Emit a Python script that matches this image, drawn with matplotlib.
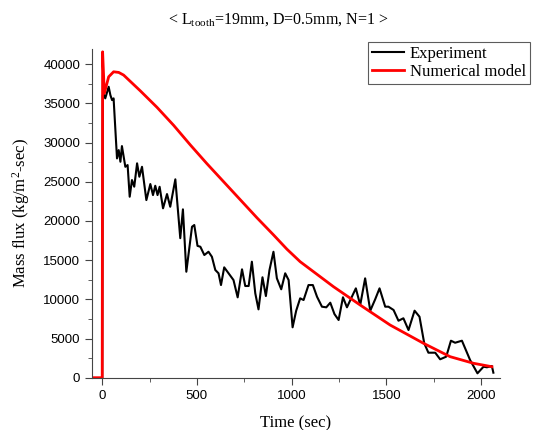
import numpy as np
import matplotlib
matplotlib.use("Agg")
import matplotlib.pyplot as plt
from matplotlib.ticker import MultipleLocator

# Experiment (time in sec, mass flux in kg/m^2-sec)
exp_t = [0, 3, 7, 16, 34, 43, 52, 60, 78, 87, 96, 104, 122, 134, 145, 157, 169,
         184, 196, 210, 233, 254, 268, 280, 292, 303, 321, 342, 359, 386, 412,
         426, 444, 474, 486, 503, 518, 539, 561, 579, 597, 614, 627, 644, 667,
         693, 715, 738, 755, 773, 790, 808, 825, 846, 864, 883, 904, 922, 945,
         966, 984, 1005, 1024, 1045, 1063, 1089, 1112, 1134, 1160, 1183, 1204,
         1226, 1248, 1271, 1292, 1318, 1339, 1362, 1388, 1415, 1441, 1464, 1494,
         1511, 1538, 1564, 1590, 1617, 1649, 1675, 1700, 1722, 1758, 1784, 1816,
         1841, 1863, 1899, 1942, 1981, 2013, 2031, 2057, 2065]
exp_y = [0, 36000, 36270, 35640, 37120, 36060, 35420, 35640, 27980, 29040,
         27550, 29550, 26910, 27130, 23090, 25220, 24370, 27350, 25640, 26910,
         22660, 24710, 23300, 24490, 23300, 24360, 21610, 23430, 21810, 25310,
         17800, 21480, 13520, 19260, 19480, 16820, 16710, 15650, 16070, 15430,
         13740, 13320, 11820, 14080, 13320, 12460, 10250, 13830, 11700, 11700,
         14800, 10770, 8720, 12810, 10420, 13740, 16070, 12680, 11280, 13320,
         12460, 6430, 8550, 10130, 9910, 11820, 11820, 10330, 9060, 8980, 9570,
         8120, 7360, 10260, 8980, 10330, 11400, 9270, 12680, 8550, 10000, 11400,
         9060, 9060, 8640, 7270, 7580, 6080, 8550, 7780, 4390, 3190, 3190, 2350,
         2680, 4720, 4460, 4720, 2260, 560, 1400, 1330, 1490, 640]

# Numerical model
num_t = [-60, 0, 2, 11, 34, 60, 87, 113, 201, 289, 377, 465, 553, 641, 729,
         817, 905, 975, 1045, 1151, 1221, 1362, 1520, 1696, 1837, 1960, 2057]
num_y = [0, 0, 41580, 36270, 38390, 39030, 38950, 38610, 36600, 34500, 32200,
         29700, 27300, 25000, 22700, 20400, 18200, 16400, 14800, 12880, 11610,
         9270, 6720, 4390, 2680, 1840, 1400]

serif = "Liberation Serif"
sans = "Liberation Sans"
plt.rcParams["mathtext.fontset"] = "custom"
plt.rcParams["mathtext.rm"] = serif
plt.rcParams["mathtext.it"] = serif + ":italic"

fig = plt.figure(figsize=(5.34, 4.30), dpi=100)
ax = fig.add_axes([92 / 534, 1 - 377.7 / 430, (500 - 92) / 534, (377.7 - 49.3) / 430])

l1, = ax.plot(exp_t, exp_y, color="black", lw=1.5, label="Experiment")
l2, = ax.plot(num_t, num_y, color="red", lw=2.0, label="Numerical model")

ax.set_xlim(-54, 2100)
ax.set_ylim(0, 41900)
ax.xaxis.set_major_locator(MultipleLocator(500))
ax.xaxis.set_minor_locator(MultipleLocator(250))
ax.yaxis.set_major_locator(MultipleLocator(5000))
ax.yaxis.set_minor_locator(MultipleLocator(2500))
for s in ["top", "right"]:
    ax.spines[s].set_visible(False)
for s in ["left", "bottom"]:
    ax.spines[s].set_color("#444444")
ax.tick_params(which="major", direction="out", length=5, color="#444444")
ax.tick_params(which="minor", direction="out", length=3, color="#444444")
for lab in ax.get_xticklabels() + ax.get_yticklabels():
    lab.set_fontfamily(sans)
    lab.set_fontsize(9.5)

ax.set_xlabel("Time (sec)", fontfamily=serif, fontsize=12, labelpad=10)
ax.set_ylabel(r"Mass flux (kg/m$^{\rm 2}$-sec)", fontfamily=serif, fontsize=12, labelpad=8)

fig.text(278 / 534, 1 - 20 / 430, r"< L$_{\rm tooth}$=19mm, D=0.5mm, N=1 >",
         ha="center", va="center", fontfamily=serif, fontsize=11.5)

leg = fig.legend(handles=[l1, l2], loc="upper left",
                 bbox_to_anchor=(368 / 534, 1 - 42 / 430),
                 prop={"family": serif, "size": 12}, frameon=True, fancybox=False,
                 edgecolor="#333333", handlelength=1.9, handletextpad=0.35,
                 borderpad=0.25, labelspacing=0.1, borderaxespad=0)
leg.get_frame().set_linewidth(0.8)

fig.savefig("out.png", dpi=100)
